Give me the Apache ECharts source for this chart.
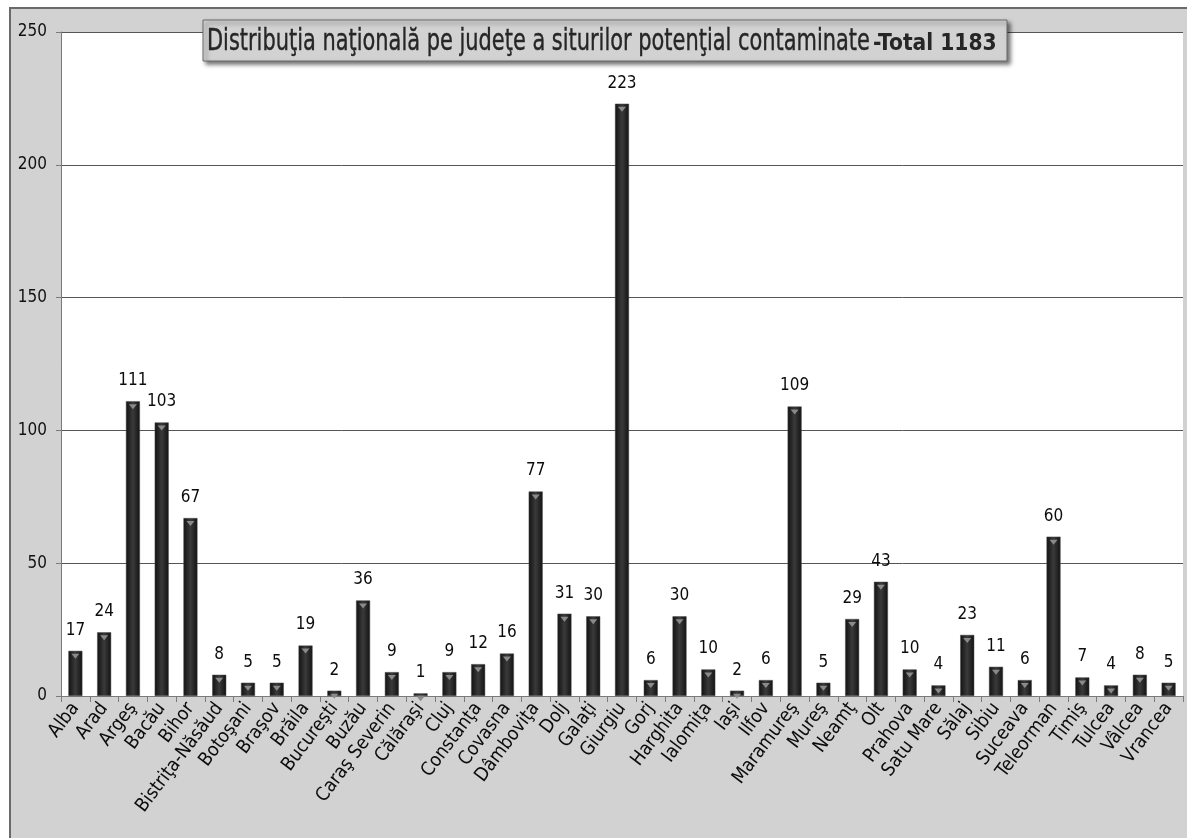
<!DOCTYPE html>
<html>
<head>
<meta charset="utf-8">
<script src="https://cdn.jsdelivr.net/npm/echarts@6/dist/echarts.min.js"></script>
<style>
  html, body { margin: 0; padding: 0; background: #ffffff; }
  #chart { width: 1187px; height: 838px; }
</style>
</head>
<body>
<div id="chart"></div>
<script>
// Counties (judeţe) and number of potentially contaminated sites in each
const counties = [
  'Alba', 'Arad', 'Argeş', 'Bacău', 'Bihor', 'Bistriţa-Năsăud', 'Botoşani', 'Braşov',
  'Brăila', 'Bucureşti', 'Buzău', 'Caraş Severin', 'Călăraşi', 'Cluj', 'Constanţa',
  'Covasna', 'Dâmboviţa', 'Dolj', 'Galaţi', 'Giurgiu', 'Gorj', 'Harghita', 'Ialomiţa',
  'Iaşi', 'Ilfov', 'Maramureş', 'Mureş', 'Neamţ', 'Olt', 'Prahova', 'Satu Mare',
  'Sălaj', 'Sibiu', 'Suceava', 'Teleorman', 'Timiş', 'Tulcea', 'Vâlcea', 'Vrancea'
];
const sites = [
  17, 24, 111, 103, 67, 8, 5, 5,
  19, 2, 36, 9, 1, 9, 12,
  16, 77, 31, 30, 223, 6, 30, 10,
  2, 6, 109, 5, 29, 43, 10, 4,
  23, 11, 6, 60, 7, 4, 8, 5
];
const yTicks = [0, 50, 100, 150, 200, 250];

const titleMain = 'Distribuţia naţională pe judeţe a siturilor potenţial contaminate';
const titleTotal = '-Total 1183';

const narrow = '"Liberation Sans Narrow", "DejaVu Sans Condensed", "Liberation Sans", sans-serif';

const chart = echarts.init(document.getElementById('chart'), null, { renderer: 'canvas' });

chart.setOption({
  backgroundColor: '#ffffff',
  animation: false,
  graphic: [
    {
      // grey chart-area panel with its frame
      type: 'rect',
      z: -10,
      shape: { x: 10, y: 8, width: 1200, height: 860 },
      style: { fill: '#d2d2d2', stroke: '#6a6a6a', lineWidth: 2 }
    },
    {
      // title box with drop shadow
      type: 'rect',
      z: 100,
      shape: { x: 203, y: 20, width: 804, height: 41 },
      style: {
        fill: '#d2d2d2',
        stroke: '#6a6a6a',
        lineWidth: 1,
        shadowColor: 'rgba(0,0,0,0.55)',
        shadowBlur: 4,
        shadowOffsetX: 3,
        shadowOffsetY: 3
      }
    },
    {
      type: 'text',
      z: 101,
      x: 207,
      y: 42,
      scaleX: 0.75,
      originX: 0,
      originY: 0,
      style: {
        text: titleMain,
        fontFamily: narrow,
        fontSize: 31,
        fill: '#262626',
        stroke: '#262626',
        lineWidth: 0.4,
        textVerticalAlign: 'middle',
        verticalAlign: 'middle'
      }
    },
    {
      type: 'text',
      z: 101,
      x: 873,
      y: 44,
      scaleX: 0.98,
      originX: 0,
      originY: 0,
      style: {
        text: titleTotal,
        fontFamily: narrow,
        fontSize: 23,
        fontWeight: 'bold',
        fill: '#262626',
        textVerticalAlign: 'middle',
        verticalAlign: 'middle'
      }
    }
  ],
  grid: {
    left: 61,
    right: 4,
    top: 32,
    bottom: 142,
    show: true,
    backgroundColor: '#ffffff',
    borderWidth: 0
  },
  xAxis: {
    type: 'category',
    data: counties,
    axisLine: { show: true, lineStyle: { color: '#7a7a7a', width: 1 } },
    axisTick: { show: true, alignWithLabel: false, length: 6, lineStyle: { color: '#7a7a7a' } },
    axisLabel: {
      interval: 0,
      rotate: 53,
      margin: 9,
      fontFamily: narrow,
      fontSize: 19,
      color: '#0c0c0c'
    }
  },
  yAxis: {
    type: 'value',
    min: yTicks[0],
    max: yTicks[yTicks.length - 1],
    interval: 50,
    axisLine: { show: true, lineStyle: { color: '#7a7a7a', width: 1 } },
    axisTick: { show: true, length: 5, lineStyle: { color: '#7a7a7a' } },
    axisLabel: {
      margin: 14,
      fontFamily: narrow,
      fontSize: 17,
      color: '#111111'
    },
    splitLine: { show: true, lineStyle: { color: '#555555', width: 1 } }
  },
  series: [
    {
      type: 'bar',
      data: sites,
      barWidth: 14,
      itemStyle: {
        color: new echarts.graphic.LinearGradient(0, 0, 1, 0, [
          { offset: 0, color: '#121212' },
          { offset: 0.5, color: '#3a3a3a' },
          { offset: 1, color: '#121212' }
        ]),
        borderColor: '#4a4a4a',
        borderWidth: 0.5
      },
      label: {
        show: true,
        position: 'top',
        distance: 12,
        fontFamily: narrow,
        fontSize: 17,
        color: '#0c0c0c'
      }
    },
    {
      // small bevel highlight at the top of each bar
      type: 'pictorialBar',
      data: sites,
      barGap: '-100%',
      symbol: 'triangle',
      symbolRotate: 180,
      symbolSize: [8, 5],
      symbolPosition: 'end',
      symbolOffset: [0, 3],
      itemStyle: { color: '#8a8a8a' },
      silent: true,
      z: 3
    }
  ]
});
</script>
</body>
</html>
